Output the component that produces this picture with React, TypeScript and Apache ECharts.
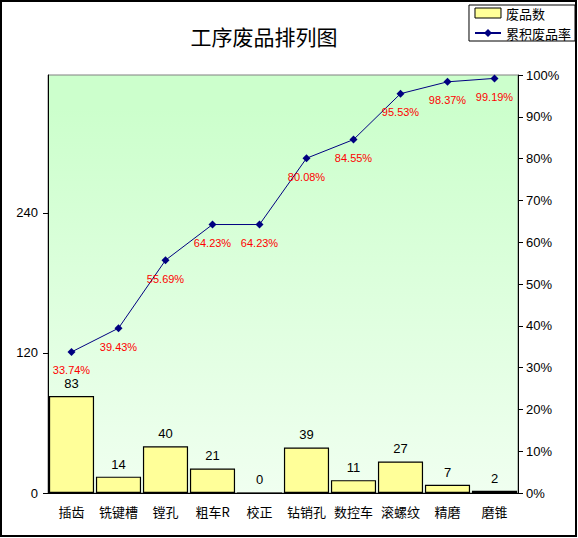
import React, { useEffect, useRef } from "react";
import * as echarts from "echarts";

const categories = ["插齿", "铣键槽", "镗孔", "粗车R", "校正", "钻销孔", "数控车", "滚螺纹", "精磨", "磨锥"];
const defects = [83, 14, 40, 21, 0, 39, 11, 27, 7, 2];
const cumulative = [33.74, 39.43, 55.69, 64.23, 64.23, 80.08, 84.55, 95.53, 98.37, 99.19];
const leftTicks = [0, 120, 240];
const titleText = "工序废品排列图";
const barName = "废品数";
const lineName = "累积废品率";

const FONT = "'Liberation Sans', 'Noto Sans CJK SC', sans-serif";
const CJK = "'Noto Sans CJK SC', sans-serif";

export default function App() {
  const ref = useRef<HTMLDivElement>(null);
  useEffect(() => {
    const chart = echarts.init(ref.current!, undefined, { renderer: "svg" });
    chart.setOption({
      animation: false,
      backgroundColor: "#ffffff",
      textStyle: { fontFamily: FONT },
      title: {
        text: titleText,
        left: 259,
        textAlign: "center",
        top: 20,
        textStyle: { fontSize: 21, fontWeight: "normal", color: "#000", fontFamily: CJK },
      },
      legend: {
        orient: "vertical",
        right: 3,
        top: 5,
        padding: [1, 4, 1, 5],
        itemGap: 6,
        itemWidth: 26,
        itemHeight: 10,
        borderColor: "#000",
        borderWidth: 1,
        backgroundColor: "#fff",
        textStyle: { fontSize: 13, lineHeight: 14, color: "#000", fontFamily: CJK },
        data: [
          { name: barName, icon: "rect", itemStyle: { color: "#ffff99", borderColor: "#000", borderWidth: 1 } },
          { name: lineName },
        ],
      },
      graphic: [
        {
          type: "rect",
          shape: { x: 1, y: 1, width: 575, height: 535 },
          style: { fill: "none", stroke: "#000", lineWidth: 2 },
          silent: true,
          z: 100,
        },
      ],
      grid: {
        left: 48,
        right: 60,
        top: 75,
        bottom: 45,
        show: true,
        borderColor: "#808080",
        borderWidth: 1,
        backgroundColor: new echarts.graphic.LinearGradient(0, 0, 0, 1, [
          { offset: 0, color: "#ccffcc" },
          { offset: 0.08, color: "#ccffcc" },
          { offset: 1, color: "#f0fff0" },
        ]),
      },
      xAxis: {
        type: "category",
        data: categories,
        axisLine: { lineStyle: { color: "#000", width: 1 } },
        axisTick: { show: false },
        axisLabel: { interval: 0, color: "#000", fontSize: 13, margin: 12, fontFamily: CJK },
      },
      yAxis: [
        {
          type: "value",
          min: 0,
          max: 358,
          interval: 120,
          splitLine: { show: false },
          axisLine: { show: true, lineStyle: { color: "#000" } },
          axisTick: { show: true, customValues: leftTicks, length: 5, lineStyle: { color: "#000" } },
          axisLabel: { customValues: leftTicks, color: "#000", fontSize: 13, margin: 10 },
        },
        {
          type: "value",
          min: 0,
          max: 100,
          interval: 10,
          position: "right",
          splitLine: { show: false },
          axisLine: { show: true, lineStyle: { color: "#000" } },
          axisTick: { show: true, length: 5, lineStyle: { color: "#000" } },
          axisLabel: { color: "#000", fontSize: 13, margin: 8, formatter: "{value}%" },
        },
      ],
      series: [
        {
          name: barName,
          type: "bar",
          yAxisIndex: 0,
          data: defects,
          barCategoryGap: "4%",
          itemStyle: { color: "#ffff99", borderColor: "#000", borderWidth: 1.2 },
          label: { show: true, position: "top", distance: 6, color: "#000", fontSize: 13 },
        },
        {
          name: lineName,
          type: "line",
          yAxisIndex: 1,
          data: cumulative,
          symbol: "diamond",
          symbolSize: 8,
          itemStyle: { color: "#000080" },
          lineStyle: { color: "#000080", width: 1 },
          label: {
            show: true,
            position: "bottom",
            distance: 9,
            color: "#ff0000",
            fontSize: 11,
            formatter: (p: any) => p.value.toFixed(2) + "%",
          },
        },
      ],
    });
    return () => chart.dispose();
  }, []);
  return <div ref={ref} style={{ position: "fixed", left: 0, top: 0, width: 578, height: 538 }} />;
}
